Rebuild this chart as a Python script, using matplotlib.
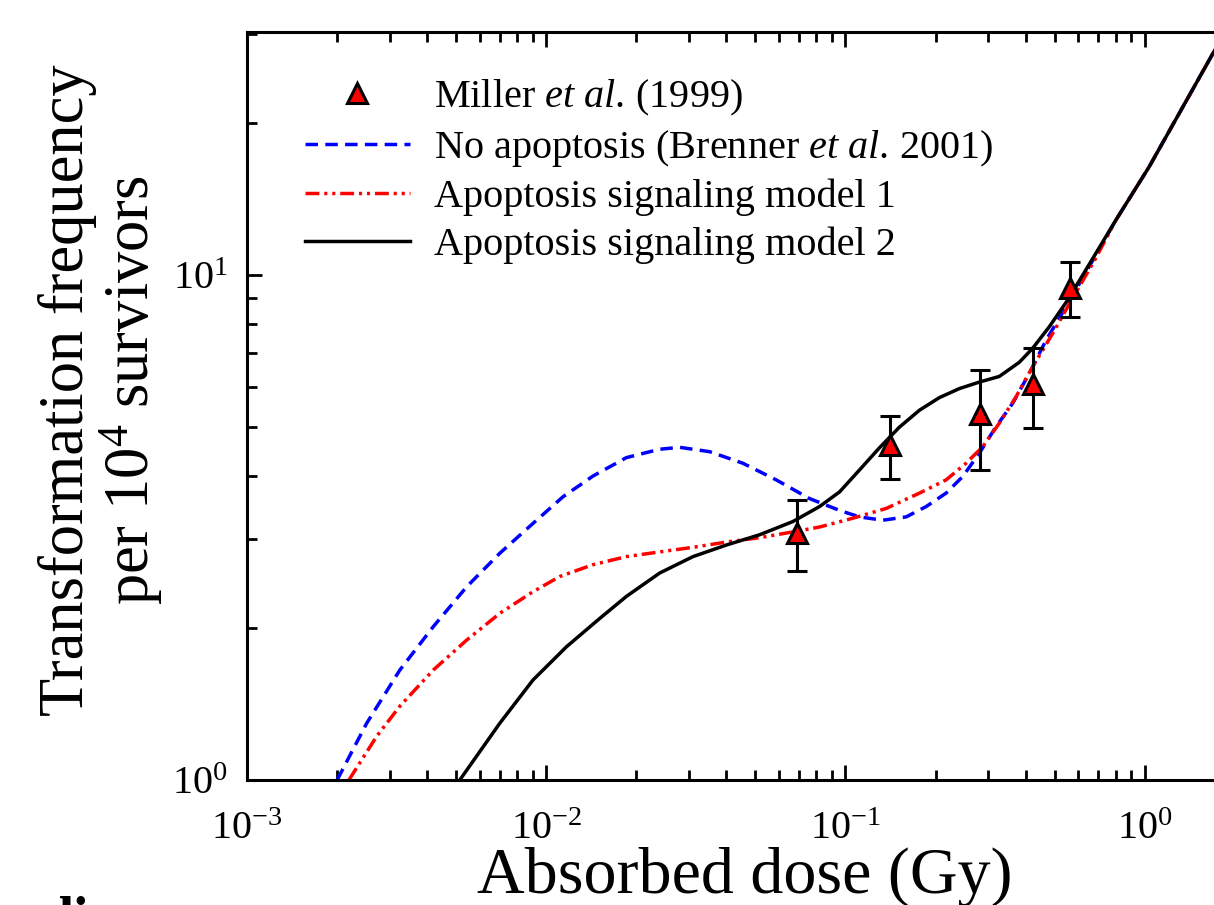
import matplotlib
matplotlib.use('Agg')
import matplotlib.pyplot as plt
from matplotlib.ticker import FuncFormatter, LogLocator
import numpy as np

plt.rcParams['font.family'] = ['Liberation Serif', 'DejaVu Serif']
plt.rcParams['mathtext.fontset'] = 'custom'
plt.rcParams['mathtext.rm'] = 'Liberation Serif'
plt.rcParams['mathtext.it'] = 'Liberation Serif:italic'
plt.rcParams['mathtext.bf'] = 'Liberation Serif:bold'

# Miller et al. (1999) data
dose_exp = [0.069, 0.141, 0.281, 0.425, 0.565]
freq_exp = [3.09, 4.60, 5.30, 6.08, 9.43]
freq_err = [0.50, 0.65, 1.19, 1.10, 1.17]

# No apoptosis (Brenner et al. 2001)
dose_noap = [0.00200, 0.00251, 0.00324, 0.00419, 0.00542, 0.00699, 0.00903, 0.01138,
             0.01433, 0.01852, 0.02393, 0.02791, 0.03515, 0.04541, 0.0587, 0.0758,
             0.0955, 0.1113, 0.1332, 0.1595, 0.186, 0.2169, 0.2464, 0.2802, 0.3186,
             0.3619, 0.4115, 0.468, 0.5458, 0.801, 1.035, 1.75]
freq_noap = [1.00, 1.295, 1.651, 2.012, 2.414, 2.812, 3.223, 3.64,
             4.00, 4.35, 4.52, 4.56, 4.47, 4.24, 3.93, 3.61,
             3.42, 3.32, 3.27, 3.32, 3.48, 3.70, 3.99, 4.44, 5.01,
             5.57, 6.39, 7.43, 8.65, 12.85, 16.39, 28.5]

# Apoptosis signaling model 1
dose_m1 = [0.00219, 0.00271, 0.00324, 0.00419, 0.00542, 0.00699, 0.00903, 0.0111,
           0.01433, 0.01852, 0.02393, 0.03093, 0.03997, 0.05163, 0.06668, 0.08188,
           0.1058, 0.1367, 0.1767, 0.2169, 0.2529, 0.2873, 0.3267, 0.3714, 0.422,
           0.4923, 0.5525, 0.680, 0.801, 1.035, 1.75]
freq_m1 = [1.00, 1.22, 1.40, 1.651, 1.893, 2.138, 2.360, 2.53,
           2.67, 2.77, 2.83, 2.89, 2.96, 3.02, 3.10, 3.17,
           3.30, 3.45, 3.70, 3.93, 4.24, 4.57, 5.09, 5.74, 6.58,
           7.66, 8.65, 10.70, 12.85, 16.39, 28.5]

# Apoptosis signaling model 2
dose_m2 = [0.00514, 0.00699, 0.00903, 0.01168, 0.0151, 0.01852, 0.02393, 0.03093,
           0.03997, 0.05163, 0.06668, 0.08188, 0.0955, 0.1113, 0.1299, 0.1515,
           0.1767, 0.206, 0.2402, 0.2802, 0.3267, 0.3811, 0.422, 0.4799, 0.5525,
           0.801, 1.035, 1.75]
freq_m2 = [1.00, 1.295, 1.578, 1.836, 2.09, 2.31, 2.57, 2.77,
           2.92, 3.06, 3.25, 3.48, 3.72, 4.11, 4.55, 5.00,
           5.40, 5.72, 5.96, 6.14, 6.30, 6.72, 7.16, 7.90, 8.92,
           12.85, 16.39, 28.5]

fig = plt.figure(figsize=(12.14, 9.05), dpi=100)
ax = fig.add_axes([0.2035, 0.1381, 0.857, 0.8265])

ax.plot(dose_noap, freq_noap, color='#0000FF', lw=2.5, dashes=(3.6, 2.1),
        label=r'No apoptosis (Brenner $\mathit{et\ al.}\,$2001)', zorder=2)
ax.plot(dose_m1, freq_m1, color='#FF0000', lw=2.5, dashes=(4.0, 1.4, 0.9, 1.4, 0.9, 1.4),
        label='Apoptosis signaling model 1', zorder=2)
ax.plot(dose_m2, freq_m2, color='black', lw=2.5,
        label='Apoptosis signaling model 2', zorder=3)

ax.errorbar(dose_exp, freq_exp, yerr=freq_err, fmt='none', ecolor='black',
            elinewidth=2.2, capsize=7.5, capthick=2.2, zorder=4)
ax.plot(dose_exp, freq_exp, '^', ms=14, mfc='#FF0000', mec='black', mew=2.2,
        label=r'Miller $\mathit{et\ al.}\,$(1999)', zorder=5)

ax.set_xscale('log')
ax.set_yscale('log')
ax.set_xlim(1e-3, 3)
ax.set_ylim(1, 30.3)

fmt = FuncFormatter(lambda v, p: r'$\mathregular{10^{%d}}$' % round(np.log10(v)))
ax.xaxis.set_major_locator(LogLocator(base=10))
ax.yaxis.set_major_locator(LogLocator(base=10))
ax.xaxis.set_major_formatter(fmt)
ax.yaxis.set_major_formatter(fmt)

ax.tick_params(which='both', direction='in', top=True, right=True, width=2.0)
ax.tick_params(which='major', length=11, labelsize=29)
ax.tick_params(axis='x', which='major', pad=22)
ax.tick_params(axis='y', which='major', pad=14)
ax.tick_params(which='minor', length=7)
for s in ax.spines.values():
    s.set_linewidth(2.2)

ax.set_xlabel('Absorbed dose (Gy)', fontsize=47.5)
ax.xaxis.set_label_coords(0.478, -0.09)
ax.set_ylabel('Transformation frequency\nper $10^4$ survivors', fontsize=45, linespacing=1.0)
ax.yaxis.set_label_coords(-0.079, 0.521)

handles, labels = ax.get_legend_handles_labels()
order = [3, 0, 1, 2]
ax.legend([handles[i] for i in order], [labels[i] for i in order],
          loc='upper left', bbox_to_anchor=(0.0558, 0.939), frameon=False,
          fontsize=29, handlelength=2.6, handletextpad=0.6, labelspacing=0.25,
          borderpad=0, borderaxespad=0)

fig.text(0.035, -0.034, 'di', fontsize=40, fontweight='bold')

fig.savefig('out.png', dpi=100)
